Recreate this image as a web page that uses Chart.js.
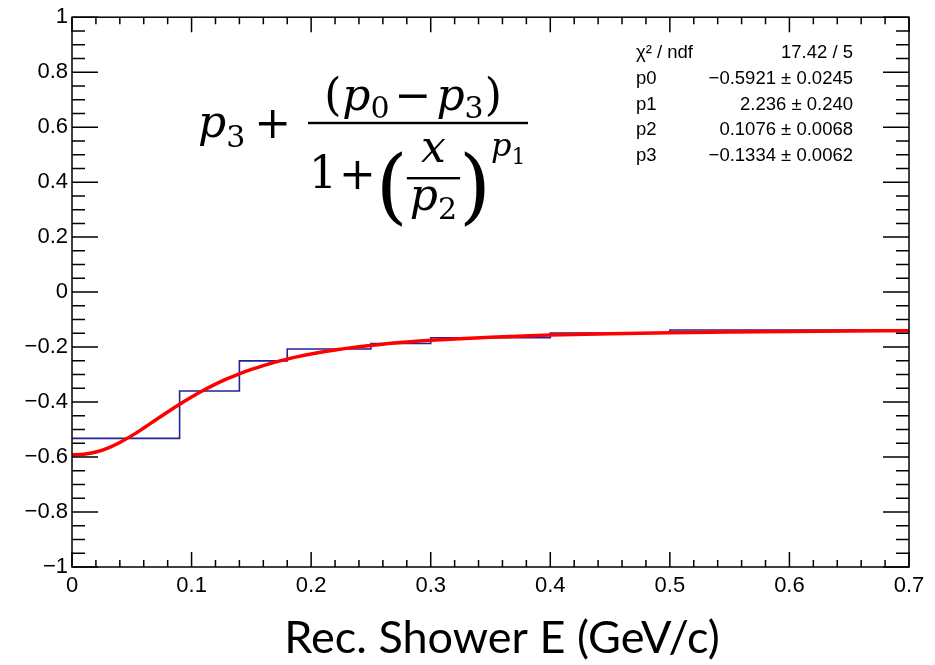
<!DOCTYPE html>
<html>
<head>
<meta charset="utf-8">
<script src="https://cdn.jsdelivr.net/npm/chart.js@4.4.1/dist/chart.umd.min.js"></script>
<style>
  html, body { margin: 0; padding: 0; background: #fff; }
  canvas { display: block; }
</style>
</head>
<body>
<canvas id="fitChart" width="935" height="665"></canvas>
<script>
// histogram: bin edges (GeV/c) and bin contents
const binEdges = [0, 0.09, 0.14, 0.18, 0.25, 0.3, 0.4, 0.5, 0.7];
const binValues = [-0.532, -0.36, -0.25, -0.207, -0.187, -0.166, -0.149, -0.138];

// fitted curve, sampled along x
const fitX = [0, 0.01, 0.02, 0.03, 0.04, 0.05, 0.06, 0.07, 0.08, 0.09, 0.1,
  0.11, 0.12, 0.13, 0.14, 0.15, 0.16, 0.17, 0.18, 0.19, 0.2,
  0.22, 0.24, 0.26, 0.28, 0.3, 0.35, 0.4, 0.45, 0.5, 0.55, 0.6, 0.65, 0.7];
const fitY = [-0.5921, -0.5898, -0.5817, -0.5672, -0.5469, -0.5221, -0.4943, -0.4652, -0.4361, -0.4080, -0.3815,
  -0.3571, -0.3349, -0.3150, -0.2971, -0.2813, -0.2672, -0.2547, -0.2437, -0.2339, -0.2252,
  -0.2105, -0.1988, -0.1894, -0.1818, -0.1755, -0.1640, -0.1565, -0.1514, -0.1477, -0.1450, -0.1430, -0.1415, -0.1403];

// fit statistics box
const statNames = ['\u03c7\u00b2 / ndf', 'p0', 'p1', 'p2', 'p3'];
const statValues = ['17.42 / 5', '\u22120.5921 \u00b1 0.0245', '2.236 \u00b1 0.240', '0.1076 \u00b1 0.0068', '\u22120.1334 \u00b1 0.0062'];

const xTitle = 'Rec. Shower E (GeV/c)';

function fmt(v) {
  const r = Math.round(v * 100) / 100;
  if (r === 0) return '0';
  return (r < 0 ? '\u2212' : '') + String(Math.abs(r));
}

function setFont(ctx, size, italic) {
  ctx.font = (italic ? 'italic ' : '') + size + 'px "DejaVu Serif", serif';
}

// lay out a run of pieces left to right: [text, size, italic, baseline, gapAfter]
function runWidth(ctx, pieces) {
  let w = 0;
  for (const p of pieces) {
    setFont(ctx, p[1], p[2]);
    w += ctx.measureText(p[0]).width + (p[4] || 0);
  }
  return w;
}
function drawRun(ctx, pieces, x) {
  for (const p of pieces) {
    setFont(ctx, p[1], p[2]);
    ctx.fillText(p[0], x, p[3]);
    x += ctx.measureText(p[0]).width + (p[4] || 0);
  }
  return x;
}

function drawFormula(ctx) {
  const M = 44, S = 30;
  // p3 +
  drawRun(ctx, [['p', M, true, 137, 0], ['3', S, false, 147, 9], ['+', M, false, 138, 0]], 198);

  const barL = 308, barR = 528, barY = 123;
  ctx.fillRect(barL, barY - 1.2, barR - barL, 2.4);

  // numerator (p0 - p3)
  const num = [['(', M, false, 110, 1], ['p', M, true, 110, 0], ['0', S, false, 118, 5],
    ['\u2212', M, false, 110, 5], ['p', M, true, 110, 0], ['3', S, false, 118, 1], [')', M, false, 110, 0]];
  drawRun(ctx, num, (barL + barR) / 2 - 5 - runWidth(ctx, num) / 2);

  // denominator 1 + (x / p2)^p1
  let x = drawRun(ctx, [['1', M, false, 188, 2], ['+', M, false, 189, 0], ['(', 82, false, 214, -1]], 309);
  const inner = [['p', M, true, 210, 0], ['2', S, false, 219, 0]];
  const iw = runWidth(ctx, inner);
  setFont(ctx, M, true);
  const xw = ctx.measureText('x').width;
  const fw = Math.max(iw, xw) + 6;
  ctx.fillRect(x, 177, fw, 2.4);
  setFont(ctx, M, true);
  ctx.fillText('x', x + (fw - xw) / 2, 162);
  drawRun(ctx, inner, x + (fw - iw) / 2);
  x += fw - 1;
  x = drawRun(ctx, [[')', 82, false, 214, 0]], x);
  drawRun(ctx, [['p', 32, true, 156, 0], ['1', 22, false, 164, 0]], x);
}

// ROOT-style frame with inward ticks on all four sides
const framePlugin = {
  id: 'frame',
  afterDatasetsDraw(chart) {
    const ctx = chart.ctx;
    const a = chart.chartArea;
    const xs = chart.scales.x, ys = chart.scales.y;
    ctx.save();
    ctx.strokeStyle = '#000';
    ctx.lineWidth = 1.5;
    ctx.strokeRect(a.left, a.top, a.right - a.left, a.bottom - a.top);
    ctx.beginPath();
    for (let i = -20; i <= 20; i++) {
      const py = ys.getPixelForValue(i / 20);
      const len = i % 4 === 0 ? 26 : 13;
      ctx.moveTo(a.left, py); ctx.lineTo(a.left + len, py);
      ctx.moveTo(a.right, py); ctx.lineTo(a.right - len, py);
    }
    for (let i = 0; i <= 35; i++) {
      const px = xs.getPixelForValue(i / 50);
      const len = i % 5 === 0 ? 15 : 7;
      ctx.moveTo(px, a.bottom); ctx.lineTo(px, a.bottom - len);
      ctx.moveTo(px, a.top); ctx.lineTo(px, a.top + len);
    }
    ctx.stroke();
    ctx.restore();
  },
  afterDraw(chart) {
    const ctx = chart.ctx;
    ctx.save();
    ctx.fillStyle = '#000';

    // stats
    ctx.font = '18.5px "Liberation Sans", Arial, sans-serif';
    statNames.forEach((n, i) => {
      const y = 58 + i * 25.8;
      ctx.textAlign = 'left';
      ctx.fillText(n, 636, y);
      ctx.textAlign = 'right';
      ctx.fillText(statValues[i], 853, y);
    });

    // axis title
    ctx.textAlign = 'center';
    ctx.font = '45px Lato, "Open Sans", sans-serif';
    ctx.fillText(xTitle, 502, 653);

    ctx.textAlign = 'left';
    drawFormula(ctx);
    ctx.restore();
  }
};

const histData = binEdges.map((e, i) => ({ x: e, y: binValues[Math.min(i, binValues.length - 1)] }));
const fitData = fitX.map((x, i) => ({ x: x, y: fitY[i] }));

new Chart(document.getElementById('fitChart').getContext('2d'), {
  type: 'line',
  data: {
    datasets: [
      {
        label: 'fit',
        data: fitData,
        borderColor: '#ff0000',
        borderWidth: 3.5,
        pointRadius: 0,
        cubicInterpolationMode: 'monotone',
        fill: false,
        order: 0
      },
      {
        label: 'hist',
        data: histData,
        borderColor: '#22229a',
        borderWidth: 1.6,
        pointRadius: 0,
        stepped: 'before',
        fill: false,
        order: 1
      }
    ]
  },
  options: {
    responsive: false,
    animation: false,
    layout: { padding: { left: 0, top: 12, right: 26, bottom: 0 } },
    plugins: { legend: { display: false }, tooltip: { enabled: false } },
    scales: {
      x: {
        type: 'linear',
        min: 0,
        max: 0.7,
        grid: { display: false, drawTicks: false },
        border: { display: false },
        ticks: {
          stepSize: 0.1,
          padding: 6,
          color: '#000',
          font: { family: '"Liberation Sans", Arial, sans-serif', size: 22 },
          callback: v => fmt(v),
          maxRotation: 0
        },
        afterFit: s => { s.height = 98; }
      },
      y: {
        min: -1,
        max: 1,
        grid: { display: false, drawTicks: false },
        border: { display: false },
        ticks: {
          stepSize: 0.2,
          padding: 4,
          color: '#000',
          font: { family: '"Liberation Sans", Arial, sans-serif', size: 22 },
          callback: v => fmt(v)
        },
        afterFit: s => { s.width = 72; }
      }
    }
  },
  plugins: [framePlugin]
});
</script>
</body>
</html>
